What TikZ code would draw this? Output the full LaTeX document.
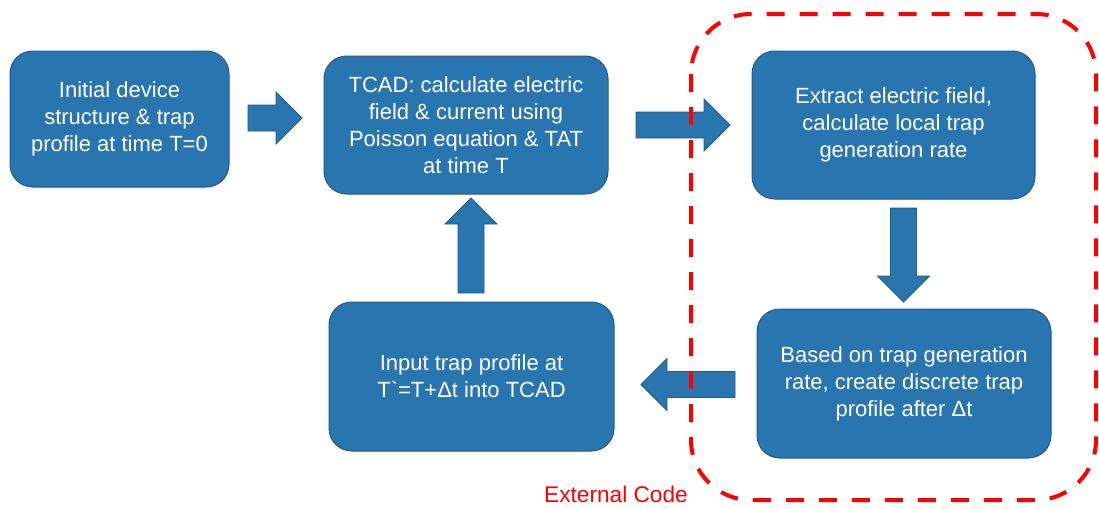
\documentclass[tikz,border=0pt]{standalone}
\usepackage{fontspec}
\setmainfont{Liberation Sans}
\usetikzlibrary{calc}
\definecolor{boxblue}{RGB}{41,117,176}
\definecolor{boxedge}{RGB}{32,92,140}
\definecolor{extred}{RGB}{255,0,0}
\tikzset{
  box/.style={draw=boxedge, fill=boxblue, line width=0.75pt, rounded corners=17pt,
    text=white, align=center, inner sep=0pt,
    font=\fontsize{16.5}{20.25}\selectfont},
  barrow/.style={draw=boxedge, fill=boxblue, line width=0.6pt, line join=miter},
  extbox/.style={draw=extred, line width=3pt, dash pattern=on 13.5pt off 11.25pt, rounded corners=45pt},
  extlabel/.style={text=extred, inner sep=0pt, font=\fontsize{17}{20}\selectfont}
}
\newcommand\blockarr[2]{%
  \coordinate (ba-h) at ($(#2)!19.5pt!(#1)$);
  \filldraw[barrow] ($(#1)!9.75pt!90:(#2)$) -- ($(ba-h)!9.75pt!-90:(#1)$)
    -- ($(ba-h)!19.5pt!-90:(#1)$) -- (#2) -- ($(ba-h)!19.5pt!90:(#1)$)
    -- ($(ba-h)!9.75pt!90:(#1)$) -- ($(#1)!9.75pt!-90:(#2)$) -- cycle;}
\begin{document}
\begin{tikzpicture}[x=0.75pt, y=-0.75pt]
\useasboundingbox (0,0) rectangle (1099,508);

\node[box, minimum width=164.25pt, minimum height=102pt] (b1) at (119.5,119)
  {Initial device\\structure \& trap\\profile at time T=0};
\node[box, minimum width=213pt, minimum height=103.5pt] (b2) at (466,125)
  {TCAD: calculate electric\\field \& current using\\Poisson equation \& TAT\\at time T};
\node[box, minimum width=212.25pt, minimum height=111pt] (b3) at (893.5,125)
  {Extract electric field,\\calculate local trap\\generation rate};
\node[box, minimum width=220.5pt, minimum height=111.75pt] (b4) at (904,383.5)
  {Based on trap generation\\rate, create discrete trap\\profile after Δt};
\node[box, minimum width=213.75pt, minimum height=111.75pt] (b5) at (471.5,376.5)
  {Input trap profile at\\T\textasciigrave=T+Δt into TCAD};

\coordinate (a1s) at (248,118);   \coordinate (a1e) at (302,118);
\coordinate (a2s) at (636,125);   \coordinate (a2e) at (730,125);
\coordinate (a3s) at (903.5,208); \coordinate (a3e) at (903.5,302);
\coordinate (a4s) at (735,384.5); \coordinate (a4e) at (641,384.5);
\coordinate (a5s) at (471,293);   \coordinate (a5e) at (471,198);

\blockarr{a1s}{a1e}
\blockarr{a2s}{a2e}
\blockarr{a3s}{a3e}
\blockarr{a4s}{a4e}
\blockarr{a5s}{a5e}

\draw[extbox] (691,14) rectangle (1096,500);
\node[extlabel] (ext) at (616,494) {External Code};
\end{tikzpicture}
\end{document}
